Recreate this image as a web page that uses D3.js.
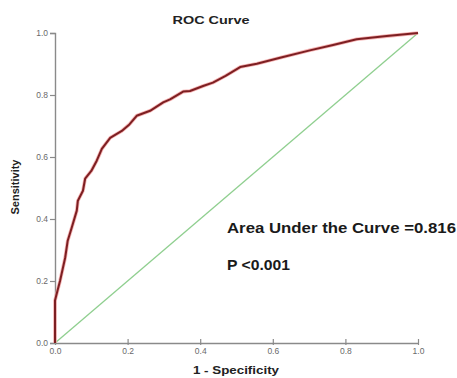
<!DOCTYPE html>
<html>
<head>
<meta charset="utf-8">
<script src="https://cdn.jsdelivr.net/npm/d3@7"></script>
<style>
  html, body { margin: 0; padding: 0; background: #fff; }
  svg { display: block; }
  text { font-family: "Liberation Sans", Arial, sans-serif; }
</style>
</head>
<body>
<svg id="chart" width="457" height="378"></svg>
<script>
// ---- data ----
const fpr = [0, 0, 0.007, 0.014, 0.028, 0.035, 0.046, 0.060, 0.063, 0.077, 0.083, 0.100, 0.115, 0.129, 0.152, 0.184, 0.205, 0.225, 0.262, 0.298, 0.317, 0.353, 0.372, 0.408, 0.435, 0.470, 0.510, 0.556, 0.620, 0.702, 0.766, 0.831, 0.914, 1.0];
const tpr = [0, 0.137, 0.169, 0.201, 0.275, 0.330, 0.372, 0.427, 0.459, 0.491, 0.530, 0.555, 0.588, 0.626, 0.662, 0.684, 0.705, 0.733, 0.749, 0.776, 0.786, 0.811, 0.813, 0.829, 0.840, 0.862, 0.890, 0.901, 0.920, 0.944, 0.961, 0.980, 0.990, 1.0];
const refLine = [0, 1];
const tickValues = [0, 0.2, 0.4, 0.6, 0.8, 1.0];
const titleText = "ROC Curve";
const xLabel = "1 - Specificity";
const yLabel = "Sensitivity";
const aucText = "Area Under the Curve =0.816";
const pText = "P <0.001";

// ---- layout ----
const svg = d3.select("#chart");
const x = d3.scaleLinear().domain([0, 1]).range([55, 418]);
const y = d3.scaleLinear().domain([0, 1]).range([343, 33]);
const axisColor = "#8a8a8a";

// axes
const xAxis = svg.append("g").attr("transform", `translate(0,${y(0)})`)
  .call(d3.axisBottom(x).tickValues(tickValues).tickFormat(d3.format(".1f")).tickSize(0).tickPadding(10));
const yAxis = svg.append("g").attr("transform", `translate(${x(0)},0)`)
  .call(d3.axisLeft(y).tickValues(tickValues).tickFormat(d3.format(".1f")).tickSize(5).tickPadding(2));
[xAxis, yAxis].forEach(g => {
  g.select(".domain").attr("stroke", axisColor).attr("stroke-width", 1.4);
  g.selectAll(".tick line").attr("stroke", axisColor).attr("stroke-width", 1.2);
  g.selectAll(".tick text").attr("fill", "#6a6a6a").attr("font-size", 8.5);
});
// x ticks crossing the axis
xAxis.selectAll(".tick").append("line")
  .attr("y1", -4).attr("y2", 2).attr("stroke", axisColor).attr("stroke-width", 1.2);
xAxis.selectAll(".tick text").attr("dy", "0.15em");

// reference diagonal
svg.append("line")
  .attr("x1", x(refLine[0])).attr("y1", y(refLine[0]))
  .attr("x2", x(refLine[1])).attr("y2", y(refLine[1]))
  .attr("stroke", "#8fcf8f").attr("stroke-width", 1.3);

// ROC curve
const pts = fpr.map((f, i) => [f, tpr[i]]);
const line = d3.line().x(d => x(d[0])).y(d => y(d[1]));
svg.append("path").datum(pts).attr("d", line)
  .attr("fill", "none").attr("stroke", "#f2a0a0").attr("stroke-width", 3.6).attr("stroke-linejoin", "round").attr("opacity", 0.8);
svg.append("path").datum(pts).attr("d", line)
  .attr("fill", "none").attr("stroke", "#7d1f22").attr("stroke-width", 2).attr("stroke-linejoin", "round");

// texts
svg.append("text").attr("x", 211).attr("y", 24).attr("text-anchor", "middle")
  .attr("font-size", 11.5).attr("font-weight", "bold").attr("fill", "#222")
  .attr("textLength", 77).attr("lengthAdjust", "spacingAndGlyphs").text(titleText);
svg.append("text").attr("x", 236).attr("y", 374).attr("text-anchor", "middle")
  .attr("font-size", 11).attr("font-weight", "bold").attr("fill", "#222")
  .attr("textLength", 86).attr("lengthAdjust", "spacingAndGlyphs").text(xLabel);
svg.append("text").attr("transform", "translate(19,187) rotate(-90)").attr("text-anchor", "middle")
  .attr("font-size", 10).attr("font-weight", "bold").attr("fill", "#222")
  .attr("textLength", 55).attr("lengthAdjust", "spacingAndGlyphs").text(yLabel);
svg.append("text").attr("x", 227).attr("y", 233)
  .attr("font-size", 14).attr("font-weight", "bold").attr("fill", "#1a1a1a")
  .attr("textLength", 229).attr("lengthAdjust", "spacingAndGlyphs").text(aucText);
svg.append("text").attr("x", 227).attr("y", 270)
  .attr("font-size", 14).attr("font-weight", "bold").attr("fill", "#1a1a1a")
  .attr("textLength", 63).attr("lengthAdjust", "spacingAndGlyphs").text(pText);
</script>
</body>
</html>
